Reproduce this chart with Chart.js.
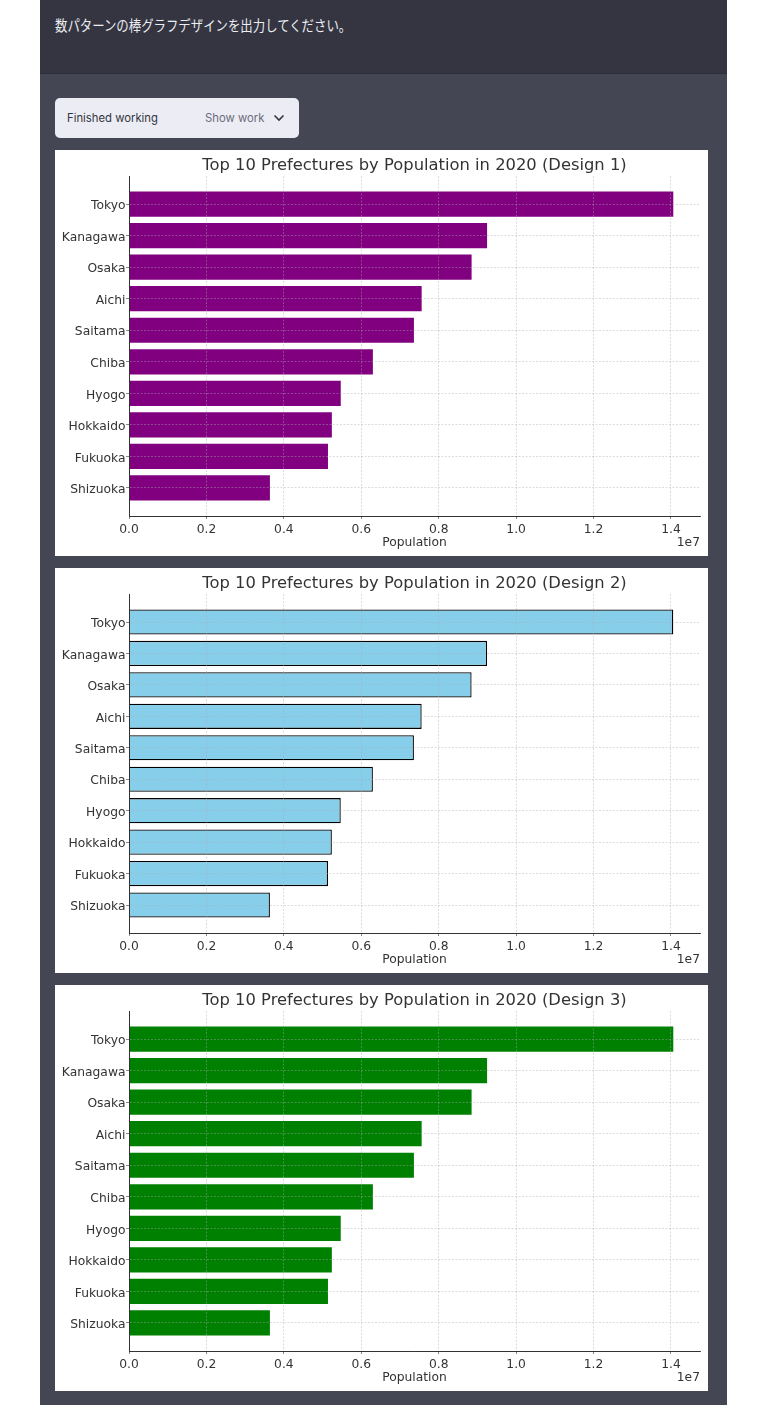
<!DOCTYPE html>
<html>
<head>
<meta charset="utf-8">
<script src="https://cdn.jsdelivr.net/npm/chart.js"></script>
<style>
  html, body { margin: 0; padding: 0; background: #fff; }
  body { width: 768px; height: 1405px; overflow: hidden; position: relative; }
  #page { position: absolute; left: 40px; top: 0; width: 687px; height: 1405px; background: #444654; }
  #head {
    position: absolute; left: 0; top: 0; width: 687px; height: 73px; background: #343541;
    border-bottom: 1px solid #2f303a;
  }
  #head span {
    position: absolute; left: 15px; top: 14px; color: #eceef3; white-space: nowrap;
    font: 14.5px/22px "Noto Sans CJK JP", sans-serif;
    transform: scaleX(0.855); transform-origin: left center;
  }
  #btn {
    position: absolute; left: 15px; top: 98px; width: 244px; height: 40px;
    background: #ecedf4; border-radius: 5px; font: 11.3px/40px Inter, sans-serif;
  }
  #btn .a { position: absolute; left: 12px; color: #343541; }
  #btn .b { position: absolute; left: 150px; color: #6b6c7b; }
  #btn svg { position: absolute; left: 218px; top: 15px; }
  .panel { position: absolute; left: 55px; width: 653px; background: #fff; }
  .panel canvas { display: block; }
</style>
</head>
<body>
<div id="page">
  <div id="head"><span>数パターンの棒グラフデザインを出力してください。</span></div>
  <div id="btn">
    <span class="a">Finished working</span>
    <span class="b">Show work</span>
    <svg width="12" height="10" viewBox="0 0 12 10"><path d="M1.5 2.5 L6 7 L10.5 2.5" fill="none" stroke="#343541" stroke-width="1.6"/></svg>
  </div>
</div>
<div class="panel" style="top:150px;height:406px"><canvas id="c1" width="653" height="406"></canvas></div>
<div class="panel" style="top:568px;height:405px"><canvas id="c2" width="653" height="405"></canvas></div>
<div class="panel" style="top:985px;height:406px"><canvas id="c3" width="653" height="406"></canvas></div>

<script>
const prefectures = ['Tokyo', 'Kanagawa', 'Osaka', 'Aichi', 'Saitama', 'Chiba', 'Hyogo', 'Hokkaido', 'Fukuoka', 'Shizuoka'];
const population = [14060000, 9250000, 8850000, 7560000, 7360000, 6300000, 5470000, 5240000, 5140000, 3640000];
const xTicks = [0, 2000000, 4000000, 6000000, 8000000, 10000000, 12000000, 14000000];
const designs = [1, 2, 3];
const fills = ['#800080', '#87CEEB', '#008000'];
const edges = ['#800080', '#000000', '#008000'];
const edgeWidths = [0, 1.3, 0];

Chart.defaults.font.family = '"DejaVu Sans"';
Chart.defaults.color = '#333333';

// the 1e7 offset text under the right end of the x axis
const offsetText = {
  id: 'offsetText',
  afterDraw(chart) {
    const c = chart.ctx;
    c.save();
    c.font = '12.3px "DejaVu Sans"';
    c.fillStyle = '#333333';
    c.textAlign = 'right';
    c.textBaseline = 'middle';
    c.fillText('1e7', chart.chartArea.right, chart.chartArea.bottom + 27);
    c.restore();
  }
};

function drawChart(i) {
  const gridLine = { color: 'rgba(170,170,175,0.6)', lineWidth: 0.7, z: 1, offset: false, tickColor: '#555555', tickLength: 3 };
  new Chart(document.getElementById('c' + designs[i]), {
    type: 'bar',
    data: {
      datasets: [{
        data: prefectures.map((p, k) => ({ x: population[k], y: k })),
        backgroundColor: fills[i],
        borderColor: edges[i],
        borderWidth: edgeWidths[i],
        barPercentage: 0.8,
        categoryPercentage: 1
      }]
    },
    options: {
      indexAxis: 'y',
      responsive: false,
      animation: false,
      layout: { padding: { right: 8 } },
      plugins: {
        legend: { display: false },
        tooltip: { enabled: false },
        title: {
          display: true,
          fullSize: false,
          text: `Top 10 Prefectures by Population in 2020 (Design ${designs[i]})`,
          color: '#333333',
          font: { size: 16.35, weight: 'normal' },
          padding: { top: 5.5, bottom: 0.9 }
        }
      },
      scales: {
        x: {
          type: 'linear',
          min: 0,
          max: 14750000,
          afterFit: s => { s.height = 40; },
          afterBuildTicks: s => { s.ticks = xTicks.map(v => ({ value: v })); },
          ticks: {
            includeBounds: false,
            maxRotation: 0,
            padding: 3,
            color: '#333333',
            font: { size: 12.3 },
            callback: v => (v / 10000000).toFixed(1)
          },
          grid: gridLine,
          border: { display: true, color: '#333333', width: 1, z: 2, dash: [2, 1.5] },
          title: { display: true, text: 'Population', color: '#333333', font: { size: 12.3 }, padding: { top: 0, bottom: 6 } }
        },
        y: {
          type: 'linear',
          reverse: true,
          offset: false,
          min: -0.89,
          max: 9.89,
          afterFit: s => { s.width = 74; },
          ticks: {
            includeBounds: false,
            stepSize: 1,
            autoSkip: false,
            padding: 0.5,
            labelOffset: 2,
            color: '#333333',
            font: { size: 12.3 },
            callback: v => prefectures[v]
          },
          grid: gridLine,
          border: { display: true, color: '#333333', width: 1, z: 2, dash: [2, 1.5] }
        }
      }
    },
    plugins: [offsetText]
  });
}

designs.forEach((d, i) => drawChart(i));
</script>
</body>
</html>
